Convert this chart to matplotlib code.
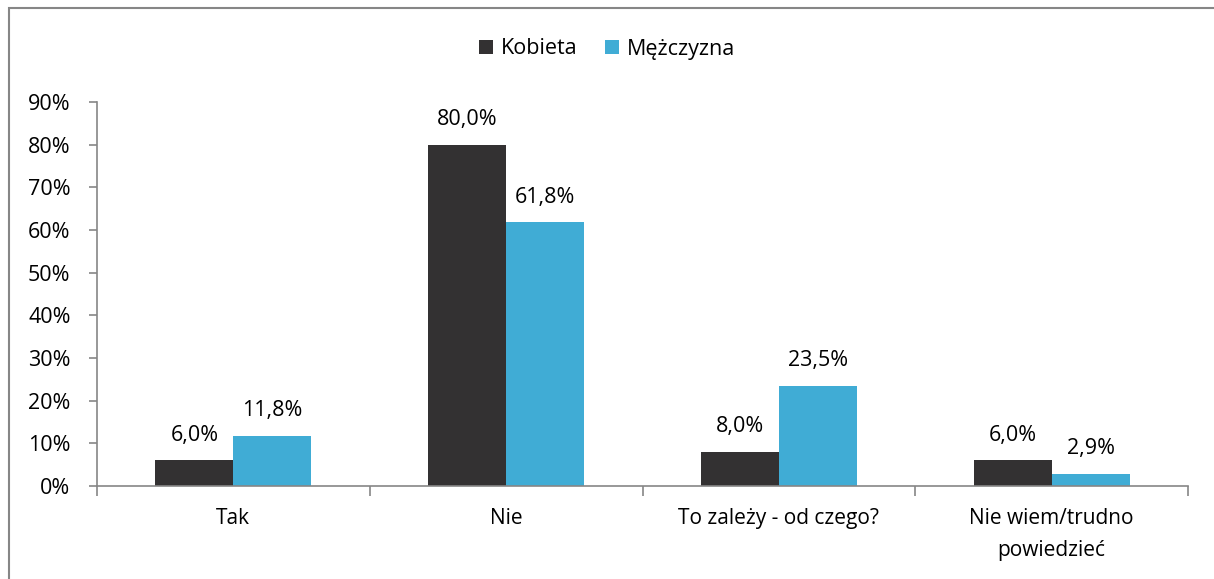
import matplotlib.pyplot as plt
from matplotlib.patches import Rectangle
import numpy as np

plt.rcParams['font.family'] = ['Open Sans', 'DejaVu Sans']

# Dane
kategorie = ["Tak", "Nie", "To zależy - od czego?", "Nie wiem/trudno\npowiedzieć"]
kobieta = [6.0, 80.0, 8.0, 6.0]
mezczyzna = [11.8, 61.8, 23.5, 2.9]
serie = ["Kobieta", "Mężczyzna"]
kolory = ["#333132", "#40ACD5"]

W, H = 1214, 579
FS = 15.5
fig = plt.figure(figsize=(W / 100, H / 100), dpi=100)

# ramka wokół wykresu (ucięta z prawej i u dołu)
fig.patches.append(Rectangle((9 / W, -0.1), 1.2, 1 - 8 / H + 0.1,
                             transform=fig.transFigure, fill=False,
                             edgecolor="#868686", linewidth=1.5))

ax = fig.add_axes([97 / W, 93 / H, (1188 - 97) / W, (486 - 102) / H])

x = np.arange(len(kategorie))
szer = 0.286
b1 = ax.bar(x - szer / 2, kobieta, szer, color=kolory[0], label=serie[0])
b2 = ax.bar(x + szer / 2, mezczyzna, szer, color=kolory[1], label=serie[1])

for bars, vals in ((b1, kobieta), (b2, mezczyzna)):
    for b, v in zip(bars, vals):
        ax.annotate(f"{v:.1f}%".replace(".", ","),
                    (b.get_x() + b.get_width() / 2, v),
                    xytext=(0, 10.5), textcoords="offset points",
                    ha="center", va="bottom", fontsize=FS, color="#000000")

ax.set_xlim(-0.5, len(kategorie) - 0.5)
ax.set_ylim(0, 90)
ax.set_yticks(np.arange(0, 91, 10))
ax.set_yticklabels([f"{t}%" for t in range(0, 91, 10)], fontsize=FS)

# etykiety kategorii i znaczniki na granicach
ax.set_xticks(x)
ax.set_xticklabels(kategorie, fontsize=15, linespacing=1.7)
ax.tick_params(axis="x", length=0, pad=16)
ax.set_xticks(np.arange(-0.5, len(kategorie)), minor=True)
ax.tick_params(axis="x", which="minor", length=7, color="#868686", width=1.2)
ax.tick_params(axis="y", length=6, color="#868686", width=1.2, pad=13)

for s in ("top", "right"):
    ax.spines[s].set_visible(False)
for s in ("left", "bottom"):
    ax.spines[s].set_color("#868686")
    ax.spines[s].set_linewidth(1.2)

fig.legend(loc="center", bbox_to_anchor=(0.5, 1 - 49 / H), ncol=2,
           frameon=False, fontsize=FS, handlelength=0.65, handleheight=0.65,
           handletextpad=0.35, columnspacing=1.3)

fig.savefig("out.png", dpi=100)
